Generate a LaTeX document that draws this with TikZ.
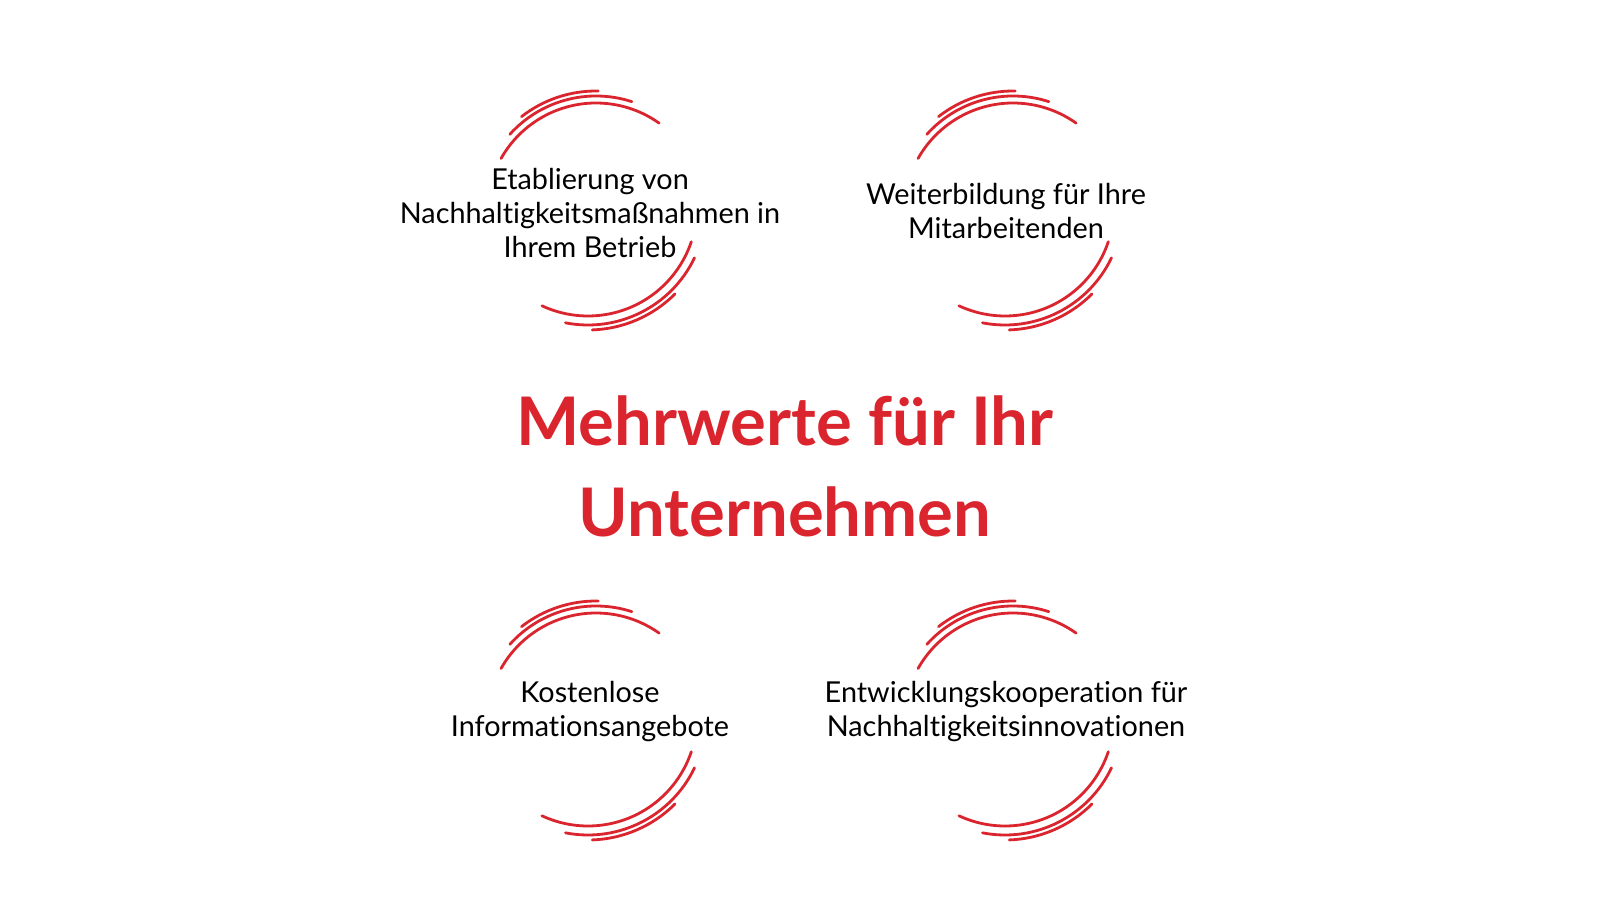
\documentclass[tikz,border=0pt]{standalone}
\usepackage{fontspec}
\setmainfont{Lato}[Ligatures=NoCommon]
\definecolor{brandred}{RGB}{218,37,46}
\begin{document}
\begin{tikzpicture}[x=1pt,y=1pt,
        stroke/.style={draw=brandred,line width=2.8,line cap=round},
        label node/.style={align=center,font=\fontsize{28.8}{34}\selectfont},
        title node/.style={align=center,text=brandred,font=\fontsize{67}{91}\selectfont\bfseries},
        ring/.pic={
            \draw[stroke] ([shift={(150.6:109)}]4,-2) arc[start angle=150.6,end angle=54.6,radius=109];
            \draw[stroke] ([shift={(138:116)}]4,-2) arc[start angle=138,end angle=72,radius=116];
            \draw[stroke] ([shift={(128:121)}]4,-2) arc[start angle=128,end angle=89,radius=121];
            \draw[stroke] ([shift={(-115:109)}]-4,3) arc[start angle=-115,end angle=-18.6,radius=109];
            \draw[stroke] ([shift={(-101:118)}]-4,3) arc[start angle=-101,end angle=-25.5,radius=118];
            \draw[stroke] ([shift={(-88:123)}]-4,3) arc[start angle=-88,end angle=-45,radius=123];
        }]
        \useasboundingbox (0,0) rectangle (1600,900);

        \pic at (592,690) {ring};
        \pic at (1009,690) {ring};
        \pic at (592,180) {ring};
        \pic at (1009,180) {ring};

        \node[label node] at (590,687) (etablierung) {Etablierung von\\Nachhaltigkeitsmaßnahmen in\\Ihrem Betrieb};
        \node[label node] at (1006,689) (weiterbildung) {Weiterbildung für Ihre\\Mitarbeitenden};
        \node[label node] at (590,188) (kostenlos) {Kostenlose\\Informationsangebote};
        \node[label node] at (1006,188) (kooperation) {Entwicklungskooperation für\\Nachhaltigkeitsinnovationen};

        \node[title node] at (785,434) (mehrwerte) {Mehrwerte für Ihr\\Unternehmen};
    \end{tikzpicture}
\end{document}
